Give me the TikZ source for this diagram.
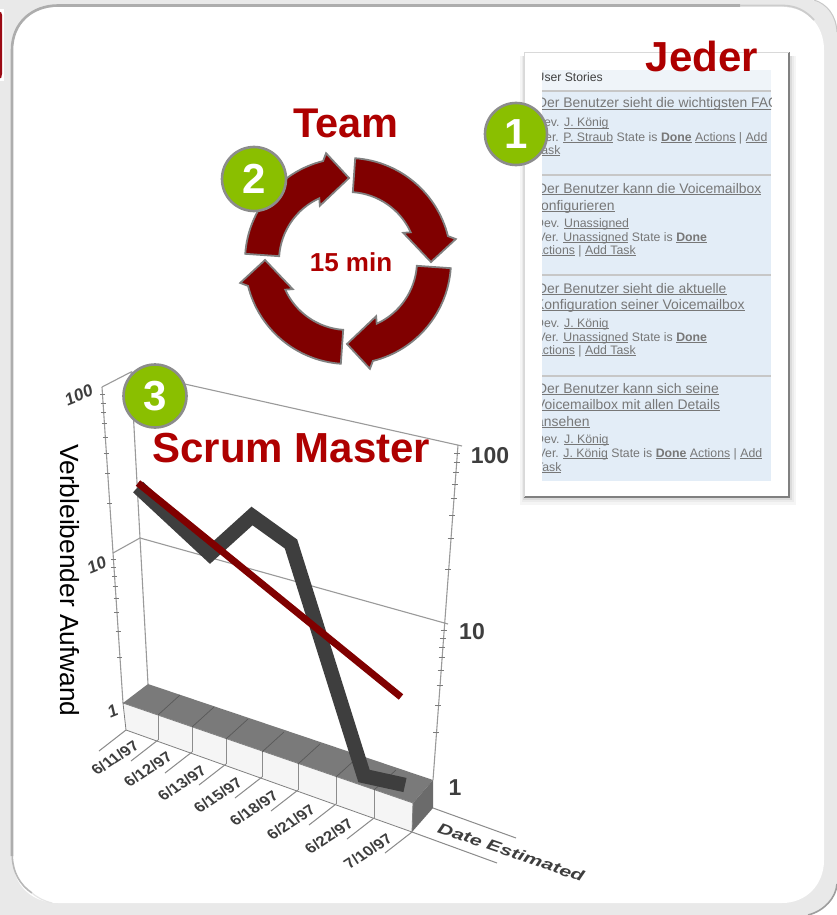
\documentclass[tikz,border=0pt]{standalone}
\usepackage{fontspec}
\setmainfont{Liberation Sans}
\usetikzlibrary{calc}
\definecolor{maroonA}{HTML}{800000}
\definecolor{redtxt}{HTML}{AE0000}
\definecolor{greenA}{HTML}{8ABF00}
\definecolor{frameA}{HTML}{E9E9E9}
\definecolor{axisA}{HTML}{9A9A9A}
\definecolor{inkA}{HTML}{3E3E3E}
\definecolor{cardblue}{HTML}{E3EDF7}
\definecolor{cardtxt}{HTML}{777777}
\definecolor{tabred}{HTML}{9B0A14}
\newcommand{\fs}[1]{\fontsize{#1}{#1}\selectfont}
\newcommand{\ul}[1]{\setbox0\hbox{#1}\rlap{\rule[-1.7pt]{\wd0}{.75pt}}\box0\relax}
\tikzset{
  head/.style={inner sep=0pt,text=redtxt,font=\fs{42}\bfseries,anchor=base},
  badge/.style={circle,fill=greenA,draw=gray!90,line width=2.6pt,minimum size=62pt,inner sep=0pt,text=white,font=\fs{42}\bfseries},
  cycarrow/.style={fill=maroonA,draw=gray,line width=1.8pt,line join=miter},
  big/.style={inner sep=0pt,anchor=base west,text=cardtxt,font=\fs{13.9}},
  small/.style={inner sep=0pt,anchor=base west,text=cardtxt,font=\fs{12.3}},
  sep/.style={draw=black!22,line width=1.2pt},
  axisline/.style={draw=axisA,line width=1.1pt},
  tick/.style={draw=axisA!80!black,line width=.9pt},
  rlabel/.style={inner sep=0pt,text=inkA,font=\fs{23}\bfseries},
  llabel/.style={inner sep=0pt,text=inkA,font=\fs{17}\bfseries,rotate=22,xslant=.15},
  datelabel/.style={inner sep=0pt,text=inkA,font=\fs{15}\bfseries,rotate=33,xslant=-.2,xscale=1.05},
  facediv/.style={draw=black!45,line width=.8pt},
  lane/.style={draw=axisA!90!black,line width=1pt}
}
\begin{document}
\begin{tikzpicture}[x=1pt,y=-1pt]
\useasboundingbox (0,0) rectangle (837,915);
% frame
\fill[white] (0,0) rectangle (837,915);
\fill[frameA] (0,0) -- (812,0) .. controls (827,4) and (837,15) .. (837,32) -- (837,882) .. controls (837,898) and (824,912) .. (806,915) -- (0,915) -- cycle;
\draw[black!38,line width=1.6pt] (837,884) .. controls (836,898) and (824,911) .. (808,915);
\draw[black!22,line width=1pt] (814,0) .. controls (827,4) and (836,15) .. (837,32);
% red tab
\fill[white] (0,9) rectangle (3.5,81);
\fill[tabred] (-6,11.5) -- (-1,11.5) .. controls (1,11.5) and (2,13) .. (2,15) -- (2,74) .. controls (2,77) and (1,79) .. (-1,79) -- (-6,79) -- cycle;
% panel
\fill[white] (13,50) .. controls (13,24) and (32,7) .. (58,7) -- (782,7) .. controls (806,7) and (824,24) .. (824,50) -- (824,860) .. controls (824,885) and (806,903) .. (782,903) -- (58,903) .. controls (32,903) and (13,885) .. (13,860) -- cycle;
\draw[black!32,line width=2.6pt] (12,856) -- (12,50) .. controls (12,23) and (32,5.5) .. (58,5.5) -- (740,5.5);
\draw[black!20,line width=1.8pt] (740,5.5) -- (782,5.5) .. controls (796,5.5) and (806,11) .. (814,20);
\draw[black!28,line width=1.6pt] (12.3,856) .. controls (12.6,872) and (20,885) .. (32,893);
\draw[black!10,line width=1.2pt] (32,893) .. controls (38,898) and (44,901) .. (52,903);
% card shadow and card
\fill[black!4] (520,56) rectangle (796,505);
\fill[black!8] (522,56) rectangle (794,502);
\fill[black!14] (523,56) rectangle (792,500);
\fill[white] (524,52) rectangle (789,497);
\draw[black!50,line width=1.8pt] (524,497) -- (789,497) -- (789,52);
\draw[black!15,line width=.8pt] (524,497) -- (524,52) -- (789,52);
\fill[cardblue] (542,70) rectangle (771,481);
\fill[black!2!cardblue!50!white] (542,70) rectangle (771,91);
\begin{scope}
\clip (542,66) rectangle (771,481);
\node[small,text=black!75,font=\fs{12.2}] (us) at (535.5,82) {User Stories};
\draw[sep] (542,91) -- (771,91);
\node[big] (a1) at (537,108) {\ul{Der Benutzer sieht die wichtigsten FAQ}};
\node[small] (a2) at (535,127) {Dev. \ul{J. König}};
\node[small] (a3) at (537.5,141) {Ver. \ul{P. Straub} State is \ul{\textbf{Done}} \ul{Actions} | \ul{Add}};
\node[small] (a4) at (535,154) {\ul{Task}};
\draw[sep] (542,175) -- (771,175);
\node[big] (b1) at (537,193) {\ul{Der Benutzer kann die Voicemailbox}};
\node[big] (b2) at (534,210) {\ul{konfigurieren}};
\node[small] (b3) at (535,227) {Dev. \ul{Unassigned}};
\node[small] (b4) at (537.5,241) {Ver. \ul{Unassigned} State is \ul{\textbf{Done}}};
\node[small] (b5) at (534.5,254) {\ul{Actions} | \ul{Add Task}};
\draw[sep] (542,275) -- (771,275);
\node[big] (c1) at (537,293) {\ul{Der Benutzer sieht die aktuelle}};
\node[big] (c2) at (535,309) {\ul{Konfiguration seiner Voicemailbox}};
\node[small] (c3) at (535,327) {Dev. \ul{J. König}};
\node[small] (c4) at (537.5,341) {Ver. \ul{Unassigned} State is \ul{\textbf{Done}}};
\node[small] (c5) at (534.5,354) {\ul{Actions} | \ul{Add Task}};
\draw[sep] (542,376) -- (771,376);
\node[big] (d1) at (537,393) {\ul{Der Benutzer kann sich seine}};
\node[big] (d2) at (536,409) {\ul{Voicemailbox mit allen Details}};
\node[big] (d3) at (536,426) {\ul{ansehen}};
\node[small] (d4) at (535,443) {Dev. \ul{J. König}};
\node[small] (d5) at (537.5,457) {Ver. \ul{J. König} State is \ul{\textbf{Done}} \ul{Actions} | \ul{Add}};
\node[small] (d6) at (536,471) {\ul{Task}};
\end{scope}
\node[head] (jeder) at (702,72) {Jeder};
% cycle arrows
\foreach \k in {0,1,2,3}{
\begin{scope}[shift={(348,261)},y=1pt,rotate=-90*\k]
\draw[cycarrow] (86:103) arc[start angle=86,end angle=14,radius=103pt] -- (11.5:110) -- (-0.7:83) -- (27:62) -- (24.6:69) arc[start angle=24.6,end angle=86,radius=69pt] -- cycle;
\end{scope}}
\node[head,font=\fs{41.5}\bfseries] (team) at (346,137) {Team};
\node[inner sep=0pt,anchor=base,text=redtxt,font=\fs{26}\bfseries] (mins) at (351,271) {15 min};
% chart coordinates
\coordinate (ltop) at (102,387);
\coordinate (lmid) at (113,553);
\coordinate (lbot) at (123,703);
\coordinate (btop) at (131,372);
\coordinate (bmid) at (140,538);
\coordinate (bbot) at (148,684);
\coordinate (rtop) at (458,445);
\coordinate (rmid) at (444,623);
\coordinate (rbot) at (433,780);
\coordinate (ffr) at (413,803);
\coordinate (fbl) at (126,730);
\coordinate (fbr) at (412,832);
\coordinate (sbr) at (433,808);
% chart frame
\draw[axisline] (ltop) -- (lbot);
\draw[axisline] (ltop) -- (btop) -- (bmid) -- (bbot);
\draw[axisline] (btop) -- ($(rtop)+(4,1)$);
\draw[axisline] (rtop) -- (rbot);
\draw[axisline] (lmid) -- (bmid) -- ($(rmid)+(4,1)$);
\foreach \f in {.046,.097,.155,.222,.301,.398,.523,.699}{
  \draw[tick] ($(ltop)!\f!(lmid)$) +(-2.5,0) -- +(2.5,0);
  \draw[tick] ($(lmid)!\f!(lbot)$) +(-2.5,0) -- +(2.5,0);
  \draw[tick] ($(rtop)!\f!(rmid)$) +(-3,0) -- +(3,0);
  \draw[tick] ($(rmid)!\f!(rbot)$) +(-3,0) -- +(3,0);
}
\node[rlabel] (r100) at (490,456) {100};
\node[rlabel] (r10) at (472,632) {10};
\node[rlabel] (r1) at (455,788) {1};
\node[llabel] (l100) at (79,395) {100};
\node[llabel] (l10) at (97,565) {10};
\node[llabel] (l1) at (113,711) {1};
% base block
\fill[black!52] (lbot) -- (bbot) -- (rbot) -- (ffr) -- cycle;
\fill[black!4] (lbot) -- (ffr) -- (fbr) -- (fbl) -- cycle;
\fill[black!58] (ffr) -- (rbot) -- (sbr) -- (fbr) -- cycle;
\draw[black!50,line width=.8pt] (lbot) -- (ffr) -- (fbr) -- (fbl) -- cycle;
\foreach \xa/\ya/\xb/\yb in {158/715/158/740, 192/727/192/752, 226/739/226/764, 262/752/262/777, 298/764/298/790, 336/777/336/804, 374/790/374/818}{
  \draw[facediv] (\xa,\ya) -- (\xb,\yb);
  \draw[black!65,line width=.7pt] (\xa,\ya) -- ++(22,-20);
}
\foreach \x/\y in {126/730,158/740,192/752,226/764,262/777,298/790,336/804,374/818,412/832}{
  \draw[lane] (\x,\y) -- ++(-27,21);
}
\node[datelabel] (d11) at (115,758) {6/11/97};
\node[datelabel] (d12) at (148,769) {6/12/97};
\node[datelabel] (d13) at (182,783) {6/13/97};
\node[datelabel] (d15) at (218,795) {6/15/97};
\node[datelabel] (d18) at (254,808) {6/18/97};
\node[datelabel] (d21) at (291,822) {6/21/97};
\node[datelabel] (d22) at (329,836) {6/22/97};
\node[datelabel] (d10) at (368,851) {7/10/97};
\draw[lane] (sbr) -- (516,838);
\draw[lane] (fbr) -- (497,863);
\node[inner sep=0pt,text=inkA,font=\fs{15}\bfseries\itshape,rotate=-19,xscale=1.42] (dest) at (511,852) {Date Estimated};
% data line
\draw[inkA,line width=14.5pt,line join=miter] (138,487) -- (210,554) -- (252,516) -- (291,544) -- (364,776) -- (405,785);
% trend line
\draw[maroonA,line width=7pt] (138,483) -- (401,697);
% labels on top
\node[inner sep=0pt,rotate=-90,font=\fs{26.3}] (ylab) at (70,580.5) {Verbleibender Aufwand};
\node[head] (sm) at (291.5,462) {Scrum Master};
\node[badge] (n1) at (516,134) {1};
\node[badge,minimum size=64pt] (n2) at (254,179) {2};
\node[badge,minimum size=63pt] (n3) at (155,396) {3};
\end{tikzpicture}
\end{document}
